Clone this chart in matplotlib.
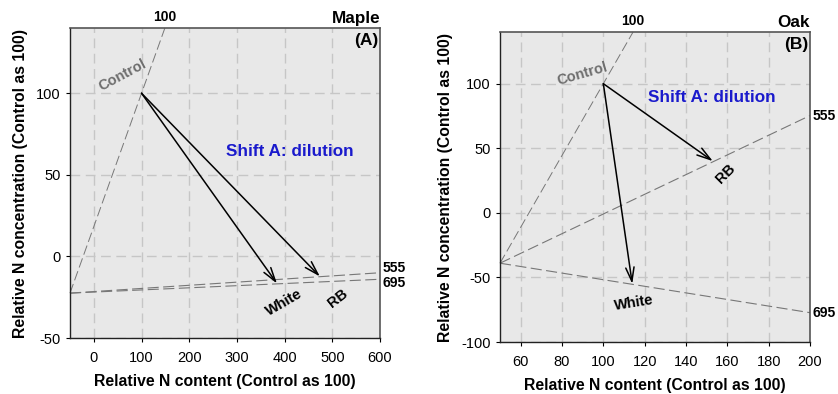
import matplotlib.pyplot as plt
import numpy as np

plt.rcParams['font.family'] = ['Liberation Sans', 'DejaVu Sans']
plt.rcParams['axes.unicode_minus'] = False

# ---- data ----
panels = ["Maple", "Oak"]
panel_tags = ["(A)", "(B)"]
xlims = [(-50, 600), (50, 200)]
ylims = [(-50, 140), (-100, 140)]
xticks_list = [[0, 100, 200, 300, 400, 500, 600], [60, 80, 100, 120, 140, 160, 180, 200]]
yticks_list = [[-50, 0, 50, 100], [-100, -50, 0, 50, 100]]

origin_pts = [(-50, -22.5), (50, -39)]          # convergence point of isolines
control_pt = [(100, 100), (100, 100)]
rb_pt = [(474, -12.3), (153, 40)]
white_pt = [(384, -16.6), (114, -55)]
iso_labels = ["100", "555", "695"]
iso_end_555 = [(600, -10), (200, 75.3)]
iso_end_695 = [(600, -14), (200, -77.3)]
iso_label_y_555 = [-7.0, 75.3]
iso_label_y_695 = [-16.0, -77.3]

ctrl_label_pos = [(60, 111, 28), (90, 107.5, 16)]
shift_pos = [(410, 64), (152.5, 89)]
white_label_pos = [(400, -28.5, 30), (115, -70, 9)]
rb_label_pos = [(512, -26, 38), (159, 30, 45)]

fig = plt.figure(figsize=(8.38, 3.94), dpi=100)
axes_rects = [
    (70 / 838, 1 - 338 / 394, 310 / 838, 310 / 394),
    (500 / 838, 1 - 342 / 394, 310 / 838, 310 / 394),
]

for i in range(2):
    ax = fig.add_axes(axes_rects[i])
    ax.set_facecolor('#e8e8e8')
    ax.set_xlim(*xlims[i])
    ax.set_ylim(*ylims[i])
    ax.set_xticks(xticks_list[i])
    ax.set_yticks(yticks_list[i])
    ax.grid(True, color='#c6c6c6', linestyle=(0, (7, 4)), linewidth=1.0)
    ax.set_axisbelow(True)
    ax.tick_params(labelsize=10.5, direction='out', length=3, width=0.8, colors='black')
    ax.tick_params(axis='x', pad=6)
    for s in ['top', 'right']:
        ax.spines[s].set_color('#555555')
        ax.spines[s].set_linewidth(1.2)
    for s in ['left', 'bottom']:
        ax.spines[s].set_color('#222222')
        ax.spines[s].set_linewidth(1.0)
    ax.set_xlabel("Relative N content (Control as 100)", fontsize=11.3, fontweight='bold', labelpad=7)
    ax.set_ylabel("Relative N concentration (Control as 100)", fontsize=11.3, fontweight='bold', labelpad=6)

    ox, oy = origin_pts[i]
    cx, cy = control_pt[i]
    ymax = ylims[i][1]
    # control isoline: extend to the top
    slope = (cy - oy) / (cx - ox)
    x_top = ox + (ymax - oy) / slope
    ax.plot([ox, x_top], [oy, ymax], color='#777777', lw=0.7, ls=(0, (10, 4)), clip_on=False)
    ax.plot([ox, iso_end_555[i][0]], [oy, iso_end_555[i][1]], color='#777777', lw=0.8, ls=(0, (10, 4)), clip_on=False)
    ax.plot([ox, iso_end_695[i][0]], [oy, iso_end_695[i][1]], color='#777777', lw=0.8, ls=(0, (10, 4)), clip_on=False)

    ax.text(x_top, ymax + (ylims[i][1] - ylims[i][0]) * 0.012, iso_labels[0], ha='center', va='bottom',
            fontsize=10, fontweight='bold')
    xr = xlims[i][1] + (xlims[i][1] - xlims[i][0]) * 0.008
    ax.text(xr, iso_label_y_555[i], iso_labels[1], ha='left', va='center', fontsize=10, fontweight='bold')
    ax.text(xr, iso_label_y_695[i], iso_labels[2], ha='left', va='center', fontsize=10, fontweight='bold')

    for tip in (rb_pt[i], white_pt[i]):
        ax.annotate("", xy=tip, xytext=(cx, cy),
                    arrowprops=dict(arrowstyle="->,head_length=1.0,head_width=0.3", color='black', lw=1.1,
                                    shrinkA=0, shrinkB=0))

    lx, ly, rot = ctrl_label_pos[i]
    ax.text(lx, ly, "Control", color='#6e6e6e', fontsize=10.5, fontweight='bold', rotation=rot,
            ha='center', va='center')
    ax.text(*shift_pos[i], "Shift A: dilution", color='#1a1acc', fontsize=12.3, fontweight='bold',
            ha='center', va='center')
    lx, ly, rot = white_label_pos[i]
    ax.text(lx, ly, "White", fontsize=10.5, fontweight='bold', rotation=rot, ha='center', va='center')
    lx, ly, rot = rb_label_pos[i]
    ax.text(lx, ly, "RB", fontsize=10.5, fontweight='bold', rotation=rot, ha='center', va='center')

    ax.text(1.0, 1.008, panels[i], transform=ax.transAxes, ha='right', va='bottom', fontsize=12.3, fontweight='bold')
    ax.text(0.995, 0.985, panel_tags[i], transform=ax.transAxes, ha='right', va='top', fontsize=12.5, fontweight='bold')

fig.savefig("out.png", dpi=100)
